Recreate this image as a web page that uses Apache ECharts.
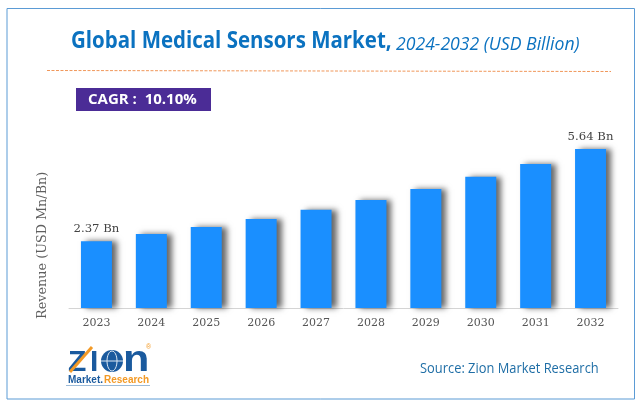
<!DOCTYPE html>
<html>
<head>
<meta charset="utf-8">
<style>
html, body { margin: 0; padding: 0; background: #fff; }
#chart { width: 644px; height: 408px; }
</style>
<script src="https://cdn.jsdelivr.net/npm/echarts@6/dist/echarts.min.js"></script>
</head>
<body>
<div id="chart"></div>
<script>
var years = ['2023', '2024', '2025', '2026', '2027', '2028', '2029', '2030', '2031', '2032']
var revenue = [2.37, 2.62, 2.87, 3.16, 3.48, 3.83, 4.22, 4.65, 5.11, 5.64]
var endLabels = { 0: '2.37 Bn', 9: '5.64 Bn' }

var titleMain = 'Global Medical Sensors Market,'
var titleSub = '2024-2032 (USD Billion)'
var cagrText = 'CAGR :  10.10%'
var sourceText = 'Source: Zion Market Research'
var yName = 'Revenue (USD Mn/Bn)'

var logoBlue = '#1a5a9e'
var logoOrange = '#f39a26'

var chart = echarts.init(document.getElementById('chart'))

var option = {
    backgroundColor: '#fff',
    animation: false,
    grid: { left: 69, right: 26, top: 110.6, bottom: 100 },
    xAxis: {
        type: 'category',
        data: years,
        axisLine: { lineStyle: { color: '#d4d4d4', width: 1 } },
        axisTick: { show: false },
        axisLabel: { color: '#555', fontFamily: 'DejaVu Serif', fontSize: 11, margin: 10 }
    },
    yAxis: {
        type: 'value',
        min: 0,
        max: 7,
        axisLine: { show: false },
        axisTick: { show: false },
        axisLabel: { show: false },
        splitLine: { show: false }
    },
    series: [{
        type: 'bar',
        barWidth: 31,
        data: revenue,
        itemStyle: {
            color: '#1a8fff',
            shadowColor: 'rgba(0,0,0,0.6)',
            shadowBlur: 6,
            shadowOffsetX: 5,
            shadowOffsetY: 0
        },
        label: {
            show: true,
            position: 'top',
            distance: 6,
            color: '#444',
            fontFamily: 'DejaVu Serif',
            fontSize: 11.7,
            formatter: function (p) { return endLabels[p.dataIndex] || '' }
        }
    }],
    graphic: [
        { type: 'rect', silent: true, shape: { x: 7, y: 8.5, width: 627.5, height: 390.5 },
          style: { fill: 'none', stroke: '#5b9bd5', lineWidth: 1 } },
        { type: 'text', x: 71, y: 30, scaleX: 0.89,
          style: { text: titleMain, fill: '#0b72c0', font: 'bold 23px "Open Sans"' } },
        { type: 'text', x: 396, y: 36, scaleX: 0.98,
          style: { text: titleSub, fill: '#0b72c0', font: 'italic 18px "Open Sans"' } },
        { type: 'line', silent: true, shape: { x1: 47, y1: 70.5, x2: 611, y2: 71.5 },
          style: { stroke: '#f0975a', lineWidth: 1, lineDash: [3, 1.5] } },
        { type: 'rect', silent: true, shape: { x: 76, y: 88, width: 135, height: 23 },
          style: { fill: '#4b2c96' } },
        { type: 'text', x: 88, y: 92,
          style: { text: cagrText, fill: '#fff', font: 'bold 15px "Open Sans"' } },
        { type: 'text', x: 420, y: 362, scaleX: 0.92,
          style: { text: sourceText, fill: '#1f6ea6', font: '14px "Open Sans"' } },
        { type: 'text', x: 36, y: 319, rotation: Math.PI / 2,
          style: { text: yName, fill: '#5f5f5f', font: '12.8px "DejaVu Serif"' } },
        // logo
        { type: 'text', x: 68, y: 348,
          style: { text: 'Z', fill: logoBlue, font: 'bold 30px "Liberation Sans"' } },
        { type: 'line', silent: true, shape: { x1: 70, y1: 372, x2: 92, y2: 347 },
          style: { stroke: logoOrange, lineWidth: 3 } },
        { type: 'text', x: 90, y: 348,
          style: { text: 'I', fill: logoBlue, font: 'bold 30px "Liberation Sans"' } },
        { type: 'circle', silent: true, shape: { cx: 112, cy: 361, r: 11 },
          style: { fill: logoBlue } },
        { type: 'ellipse', silent: true, shape: { cx: 112, cy: 361, rx: 5, ry: 10 },
          style: { fill: 'none', stroke: '#dbe7f3', lineWidth: 1 } },
        { type: 'line', silent: true, shape: { x1: 101, y1: 361, x2: 123, y2: 361 },
          style: { stroke: '#dbe7f3', lineWidth: 1 } },
        { type: 'text', x: 123, y: 343, scaleX: 1.2,
          style: { text: 'n', fill: logoBlue, font: 'bold 36px "Liberation Sans"' } },
        { type: 'text', x: 146, y: 344,
          style: { text: '®', fill: logoOrange, font: '7px "Liberation Sans"' } },
        { type: 'text', x: 68, y: 375,
          style: { text: 'Market.', fill: logoBlue, font: 'bold 10px "Liberation Sans"' } },
        { type: 'text', x: 104, y: 375,
          style: { text: 'Research', fill: logoOrange, font: 'bold 10px "Liberation Sans"' } },
        { type: 'line', silent: true, shape: { x1: 66, y1: 385.5, x2: 150, y2: 385.5 },
          style: { stroke: '#9dbbd8', lineWidth: 1 } }
    ]
}

chart.setOption(option)
</script>
</body>
</html>
